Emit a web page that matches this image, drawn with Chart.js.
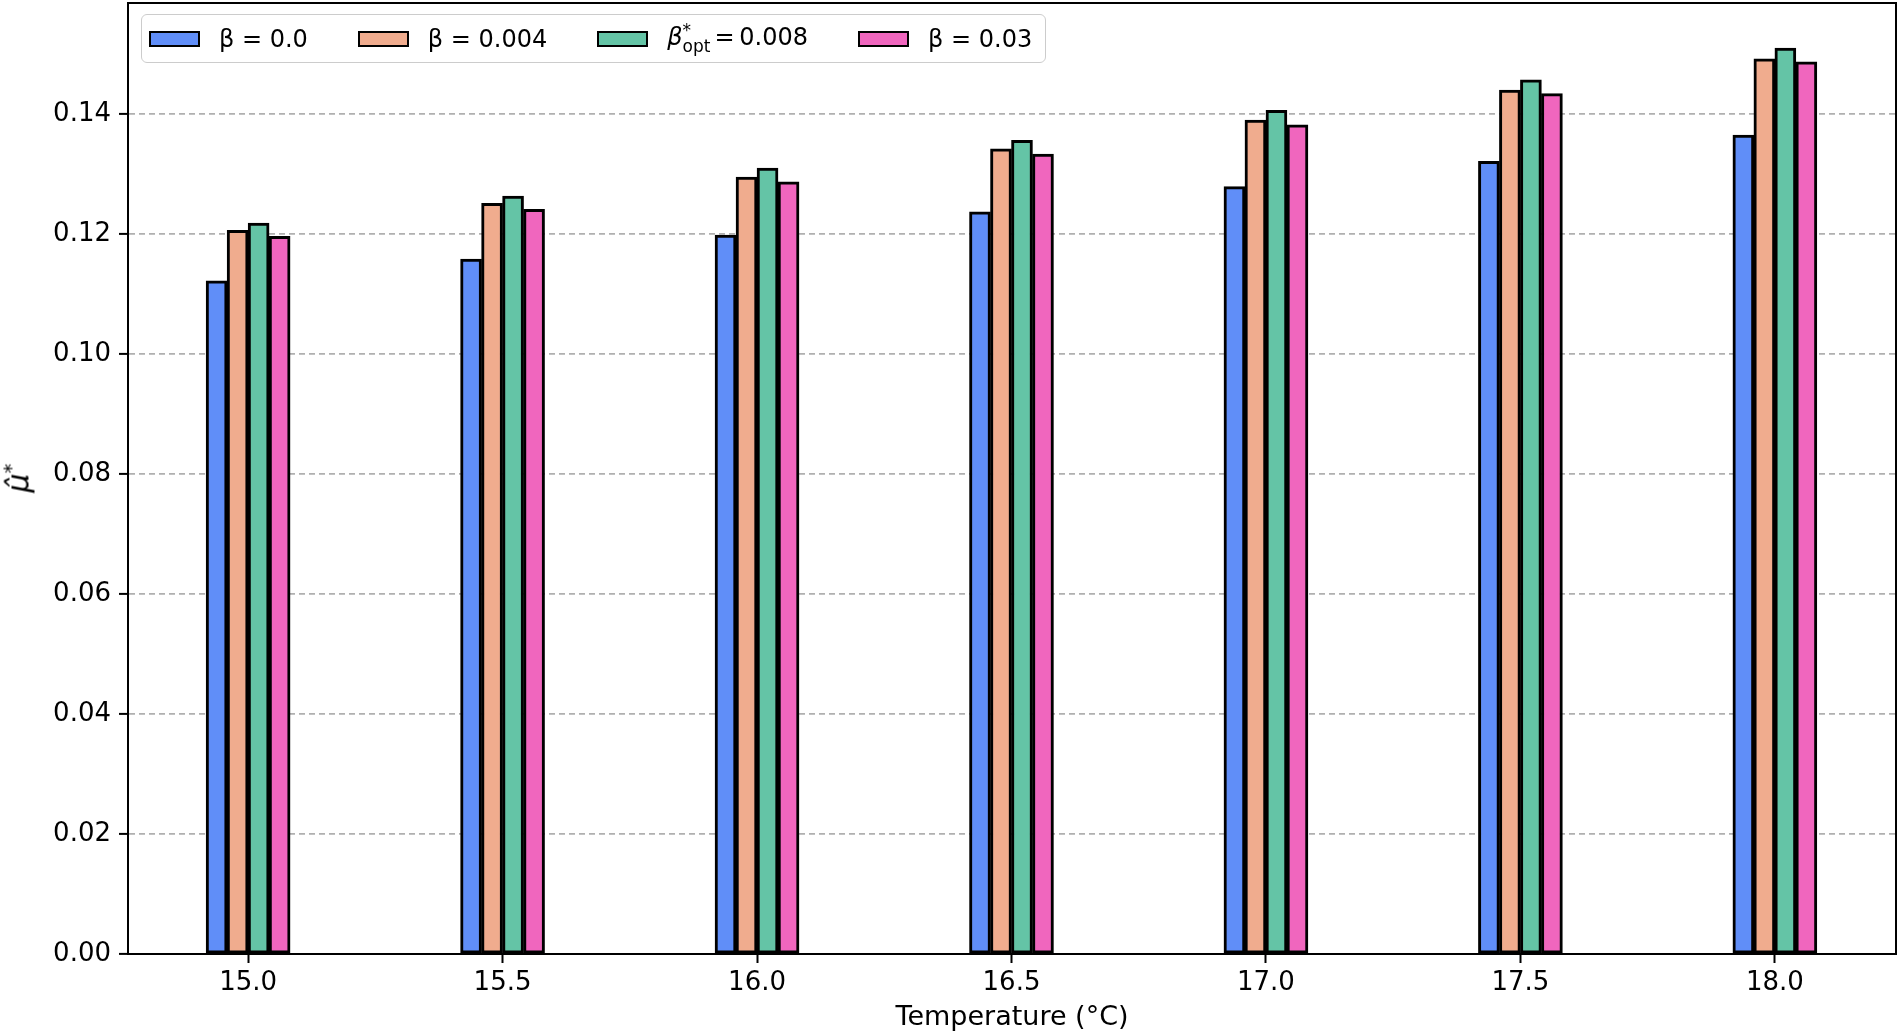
<!DOCTYPE html>
<html>
<head>
<meta charset="utf-8">
<script src="https://cdn.jsdelivr.net/npm/chart.js@4/dist/chart.umd.min.js"></script>
<style>
    body { margin: 0; background: #fff; font-family: "DejaVu Sans", sans-serif; }
    #wrap { position: relative; width: 1900px; height: 1034px; }
    #legend {
        position: absolute; left: 141px; top: 14px; width: 905px; height: 49px;
        border: 1.5px solid #cccccc; border-radius: 6px; background: rgba(255,255,255,0.85);
        display: flex; align-items: center; padding-left: 7px; box-sizing: border-box;
        font-size: 24px; color: #000;
    }
    .item { display: flex; align-items: center; margin-right: 50px; white-space: nowrap; }
    .swatch { width: 47px; height: 12px; border: 2px solid #000; margin-right: 19px; }
    .subsup { display: inline-block; vertical-align: middle; line-height: 0.9; font-size: 17px; margin-right: 4px; }
    #ylabel {
        position: absolute; left: 17px; top: 478px; transform: translate(-50%, -50%) rotate(-90deg);
        font-size: 30px; white-space: nowrap;
    }
</style>
</head>
<body>
<div id="wrap">
    <canvas id="chart" width="1900" height="1034"></canvas>
    <div id="legend"></div>
    <div id="ylabel"><i>μ̂</i><sup style="font-size:20px">*</sup></div>
</div>
<script>
const temperatures = [15.0, 15.5, 16.0, 16.5, 17.0, 17.5, 18.0];
const beta0 = [0.1122, 0.1158, 0.1198, 0.1237, 0.1279, 0.1321, 0.1365];
const beta004 = [0.1206, 0.1251, 0.1295, 0.1342, 0.1390, 0.1440, 0.1492];
const betaOpt = [0.1218, 0.1263, 0.1310, 0.1356, 0.1406, 0.1457, 0.1510];
const beta03 = [0.1196, 0.1241, 0.1287, 0.1333, 0.1382, 0.1434, 0.1487];
const seriesLabels = ["β = 0.0", "β = 0.004", "β*opt = 0.008", "β = 0.03"];
const seriesColors = ["#608ef8", "#f0ac8e", "#64c4a6", "#f066be"];
const yTicks = [0.00, 0.02, 0.04, 0.06, 0.08, 0.10, 0.12, 0.14];
const xTicks = temperatures;

/**
 * Build points for one series.
 *
 * @param {Array} values
 * @returns {Array} points
 */
function toPoints(values) {
    const points = [];
    for (let i = 0; i < temperatures.length; i++) {
        points.push({ x: temperatures[i], y: values[i] });
    }
    return points;
}

/**
 * Legend drawn as html on top of the canvas.
 */
function buildLegend() {
    const legend = document.getElementById("legend");
    for (let i = 0; i < seriesLabels.length; i++) {
        let text = seriesLabels[i];
        if (text.indexOf("opt") !== -1) {
            const rest = text.split("opt")[1];
            text = '<i>β</i><span class="subsup">*<br>opt</span>' + rest.trim().replace("= ", "=&thinsp;");
        }
        legend.innerHTML += '<div class="item"><div class="swatch" style="background:' +
            seriesColors[i] + '"></div><span>' + text + '</span></div>';
    }
}

/**
 * Top and right spines.
 */
const frame = {
    id: "frame",
    afterDraw(chart) {
        const a = chart.chartArea;
        const ctx = chart.ctx;
        ctx.save();
        ctx.strokeStyle = "#000";
        ctx.lineWidth = 2;
        ctx.strokeRect(a.left, a.top, a.right - a.left, a.bottom - a.top);
        ctx.restore();
    }
};

function initChart() {
    const series = [beta0, beta004, betaOpt, beta03];
    const datasets = [];
    for (let i = 0; i < series.length; i++) {
        datasets.push({
            label: seriesLabels[i],
            data: toPoints(series[i]),
            backgroundColor: seriesColors[i],
            borderColor: "#000",
            borderWidth: 3,
            borderSkipped: false,
            barThickness: 21
        });
    }
    new Chart(document.getElementById("chart"), {
        type: "bar",
        data: { datasets: datasets },
        options: {
            responsive: false,
            animation: false,
            devicePixelRatio: 1,
            layout: { padding: { top: 3, right: 4, left: 0, bottom: 0 } },
            plugins: { legend: { display: false }, tooltip: { enabled: false } },
            scales: {
                x: {
                    type: "linear",
                    offset: false,
                    min: 14.764,
                    max: 18.238,
                    afterBuildTicks: axis => { axis.ticks = xTicks.map(v => ({ value: v })); },
                    afterFit: scale => {
                        scale.height = 80;
                        scale.paddingLeft = 0;
                        scale.paddingRight = 0;
                    },
                    ticks: {
                        color: "#000",
                        font: { family: "DejaVu Sans", size: 26 },
                        padding: 5,
                        maxRotation: 0,
                        callback: v => Number(v).toFixed(1)
                    },
                    grid: { offset: false, drawOnChartArea: false, drawTicks: true, tickLength: 9, tickColor: "#000", tickWidth: 2 },
                    border: { color: "#000", width: 2 },
                    title: {
                        display: true,
                        text: "Temperature (°C)",
                        color: "#000",
                        font: { family: "DejaVu Sans", size: 27 },
                        padding: { top: 0, bottom: 0 }
                    }
                },
                y: {
                    min: 0,
                    max: 0.1585,
                    afterBuildTicks: axis => { axis.ticks = yTicks.map(v => ({ value: v })); },
                    afterFit: scale => {
                        scale.width = 128;
                        scale.paddingTop = 0;
                        scale.paddingBottom = 0;
                    },
                    ticks: {
                        color: "#000",
                        font: { family: "DejaVu Sans", size: 26 },
                        padding: 8,
                        callback: v => Number(v).toFixed(2)
                    },
                    grid: {
                        color: "#b0b0b0",
                        lineWidth: 1.8,
                        tickLength: 9,
                        tickColor: "#000",
                        tickWidth: 2,
                        tickBorderDash: []
                    },
                    border: { color: "#000", width: 2, dash: [6, 4] }
                }
            }
        },
        plugins: [frame]
    });
}

buildLegend();
initChart();
</script>
</body>
</html>
